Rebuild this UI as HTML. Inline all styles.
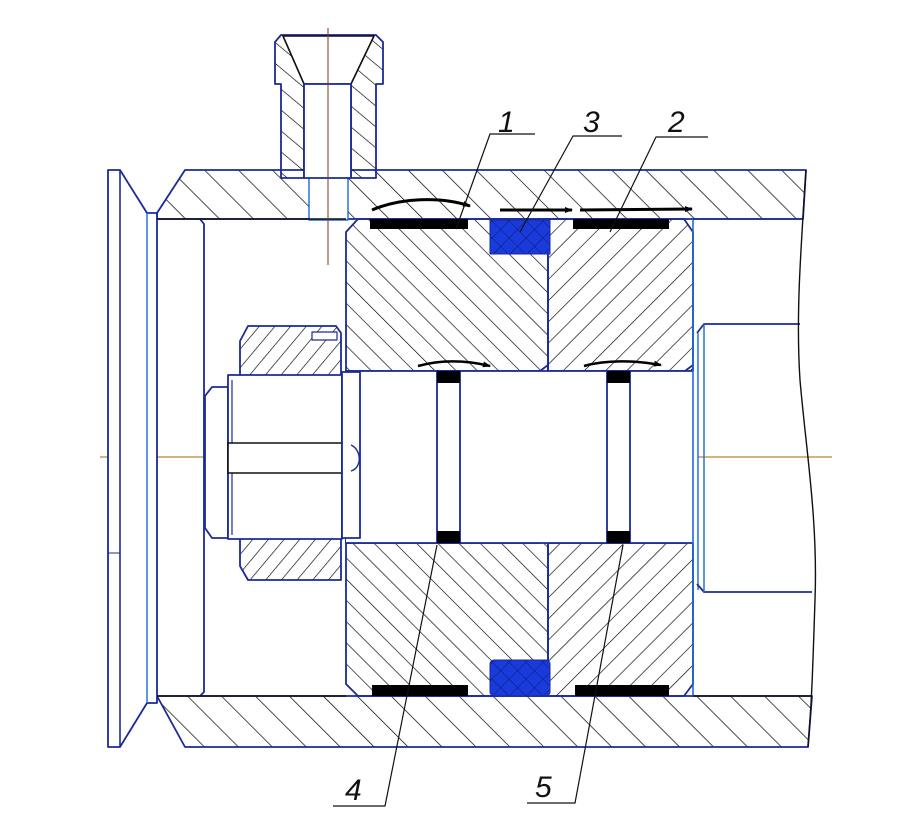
<!DOCTYPE html>
<html><head><meta charset="utf-8"><style>
html,body{margin:0;padding:0;background:#fff;width:899px;height:823px;overflow:hidden}
svg{display:block}
text{font-family:"Liberation Sans",sans-serif;font-style:italic;font-size:30px;fill:#111}
</style></head><body>
<svg width="899" height="823" viewBox="0 0 899 823" xmlns="http://www.w3.org/2000/svg">
<defs>
<pattern id="hb" width="24" height="24" patternUnits="userSpaceOnUse" patternTransform="rotate(-45)"><line x1="0" y1="0" x2="0" y2="24" stroke="#000" stroke-width="1.4"/></pattern>
<pattern id="hp1" width="15" height="15" patternUnits="userSpaceOnUse" patternTransform="rotate(-45)"><line x1="0" y1="0" x2="0" y2="15" stroke="#000" stroke-width="1.3"/></pattern>
<pattern id="hp2" width="15" height="15" patternUnits="userSpaceOnUse" patternTransform="rotate(45)"><line x1="0" y1="0" x2="0" y2="15" stroke="#000" stroke-width="1.3"/></pattern>
<pattern id="hn" width="12" height="12" patternUnits="userSpaceOnUse" patternTransform="rotate(40)"><line x1="0" y1="0" x2="0" y2="12" stroke="#000" stroke-width="1.3"/></pattern>
<pattern id="hf" width="16" height="16" patternUnits="userSpaceOnUse" patternTransform="rotate(-50)"><line x1="0" y1="0" x2="0" y2="16" stroke="#000" stroke-width="1.3"/></pattern>
<pattern id="xh" width="12" height="12" patternUnits="userSpaceOnUse" patternTransform="rotate(45)"><rect width="12" height="12" fill="#1a3bdc"/><line x1="0" y1="0" x2="0" y2="12" stroke="#0a1a70" stroke-width="1"/><line x1="0" y1="0" x2="12" y2="0" stroke="#0a1a70" stroke-width="1"/></pattern>
<marker id="ar" markerWidth="8" markerHeight="6" refX="7" refY="3" orient="auto" markerUnits="userSpaceOnUse"><path d="M0,0 L8,3 L0,6 Z" fill="#000"/></marker>
</defs>
<g fill="none" stroke-linejoin="round">
<line x1="100" y1="457" x2="832" y2="457" stroke="#b8862f" stroke-width="1.2"/>
<path d="M157,219 L157,213 L185,170 L806,170 L803,219 Z" fill="url(#hb)" stroke="#1a2a9a" stroke-width="1.8"/>
<path d="M157,696 L185,747 L808,747 L812,696 Z" fill="url(#hb)" stroke="#1a2a9a" stroke-width="1.8"/>
<rect x="309" y="176" width="39" height="44" fill="#fff" stroke="#1a6adc" stroke-width="1.4"/>
<path d="M108,170 L120,170 L147,213 L157,213 L157,703 L147,703 L120,747 L108,747 Z" fill="#fff" stroke="#1a2a9a" stroke-width="1.8"/>
<line x1="120" y1="170" x2="120" y2="747" stroke="#1a2a9a" stroke-width="1.6"/>
<line x1="147" y1="213" x2="147" y2="703" stroke="#1a6adc" stroke-width="1.4"/>
<line x1="108" y1="553" x2="120" y2="553" stroke="#1a2a9a" stroke-width="1"/>
<path d="M200,219 L204,224 L204,692 L200,696" stroke="#1a2a9a" stroke-width="1.8"/>
<line x1="157" y1="219" x2="346" y2="219" stroke="#111" stroke-width="1.6"/>
<line x1="157" y1="696" x2="346" y2="696" stroke="#111" stroke-width="1.6"/>
<path d="M281,35 L376,35 L383,42 L383,84 L376,84 L376,178 L351,178 L351,84 L304,84 L304,178 L281,178 L281,84 L275,84 L275,42 Z" fill="url(#hf)" stroke="#1a2a9a" stroke-width="1.8"/>
<path d="M283,36 L304,84 L351,84 L374,36 Z" fill="#fff" stroke="#111" stroke-width="1.6"/>
<rect x="304" y="84" width="47" height="94" fill="#fff" stroke="#1a2a9a" stroke-width="1.8"/>
<line x1="328" y1="28" x2="328" y2="265" stroke="#7a3a1a" stroke-width="1"/>
<path d="M346,232 L358,219 L548,219 L548,538 L540,543 L346,543 Z" fill="url(#hp1)" stroke="#1a2a9a" stroke-width="1.8"/>
<path d="M346,371 L540,371 L548,365 L548,696 L358,696 L346,684 Z" fill="url(#hp1)" stroke="#1a2a9a" stroke-width="1.8"/>
<path d="M548,219 L684,219 L693,232 L693,538 L685,543 L548,543 Z" fill="url(#hp2)" stroke="#1a2a9a" stroke-width="1.8"/>
<path d="M548,371 L685,371 L693,365 L693,684 L684,696 L548,696 Z" fill="url(#hp2)" stroke="#1a2a9a" stroke-width="1.8"/>
<rect x="346" y="371" width="352" height="172" fill="#fff" stroke="none"/>
<line x1="346" y1="371" x2="693" y2="371" stroke="#1a2a9a" stroke-width="1.8"/>
<line x1="346" y1="543" x2="693" y2="543" stroke="#1a2a9a" stroke-width="1.8"/>
<line x1="693" y1="219" x2="693" y2="696" stroke="#1a6adc" stroke-width="1.6"/>
<line x1="698" y1="333" x2="698" y2="590" stroke="#1a6adc" stroke-width="1.4"/>
<path d="M697,333 L704,324 L800,324 M697,584 L704,592 L812,592" stroke="#1a2a9a" stroke-width="1.8"/>
<line x1="704" y1="324" x2="704" y2="592" stroke="#1a6adc" stroke-width="1.4"/>
<line x1="693" y1="219" x2="803" y2="219" stroke="#1a2a9a" stroke-width="1.6"/>
<line x1="693" y1="696" x2="812" y2="696" stroke="#111" stroke-width="1.6"/>
<path d="M806,170 C800,260 796,320 800,380 C806,450 818,520 815,600 C813,660 812,700 808,747" stroke="#111" stroke-width="1.4"/>
<rect x="370" y="219" width="98" height="10" fill="#000"/>
<rect x="573" y="219" width="96" height="10" fill="#000"/>
<rect x="372" y="685" width="96" height="11" fill="#000"/>
<rect x="575" y="685" width="94" height="11" fill="#000"/>
<rect x="490" y="220" width="60" height="34" fill="url(#xh)" stroke="#1a2a9a" stroke-width="1"/>
<rect x="490" y="660" width="60" height="36" rx="4" fill="url(#xh)" stroke="#1a2a9a" stroke-width="1"/>
<rect x="437" y="371" width="23" height="172" fill="#fff" stroke="#1a2a9a" stroke-width="1.8"/>
<rect x="437" y="371" width="23" height="12" fill="#000"/>
<rect x="437" y="531" width="23" height="12" fill="#000"/>
<rect x="607" y="371" width="23" height="172" fill="#fff" stroke="#1a2a9a" stroke-width="1.8"/>
<rect x="607" y="371" width="23" height="12" fill="#000"/>
<rect x="607" y="531" width="23" height="12" fill="#000"/>
<path d="M248,326 L336,326 L341,333 L341,380 L240,380 L240,341 Z" fill="url(#hn)" stroke="#1a2a9a" stroke-width="1.8"/>
<path d="M240,536 L341,536 L341,580 L248,580 L240,566 Z" fill="url(#hn)" stroke="#1a2a9a" stroke-width="1.8"/>
<rect x="312" y="332" width="25" height="8" fill="#fff" stroke="#1a2a9a" stroke-width="1.2"/>
<path d="M212,387 L228,387 L228,538 L212,538 L205,528 L205,396 Z" fill="#fff" stroke="#1a2a9a" stroke-width="1.8"/>
<rect x="228" y="375" width="114" height="164" fill="#fff" stroke="#1a2a9a" stroke-width="1.8"/>
<line x1="232" y1="380" x2="232" y2="535" stroke="#1a2a9a" stroke-width="1.2"/>
<rect x="228" y="443" width="114" height="30" fill="#fff" stroke="#111" stroke-width="1.6"/>
<rect x="342" y="372" width="18" height="166" fill="#fff" stroke="#1a2a9a" stroke-width="1.8"/>
<path d="M351,445 C362,450 362,468 351,471" stroke="#1a2a9a" stroke-width="1.4"/>
<path d="M372,210 C400,198 440,196 470,206" stroke="#000" stroke-width="3" marker-end="url(#ar)"/>
<path d="M500,210 L572,210" stroke="#000" stroke-width="3" marker-end="url(#ar)"/>
<path d="M580,210 L692,209" stroke="#000" stroke-width="3" marker-end="url(#ar)"/>
<path d="M418,366 C440,360 465,360 490,366" stroke="#000" stroke-width="2.5" marker-end="url(#ar)"/>
<path d="M584,366 C605,360 635,360 661,365" stroke="#000" stroke-width="2.5" marker-end="url(#ar)"/>
<g stroke="#111" stroke-width="1.2">
<path d="M535,134 L490,134 L456,229"/>
<path d="M622,136 L573,136 L520,232"/>
<path d="M708,137 L656,137 L610,232"/>
<path d="M333,806 L385,806 L437,545"/>
<path d="M527,803 L575,803 L623,545"/>
</g>
</g>
<text x="498" y="132">1</text>
<text x="583" y="132">3</text>
<text x="668" y="132">2</text>
<text x="345" y="800">4</text>
<text x="535" y="797">5</text>
</svg>
</body></html>
